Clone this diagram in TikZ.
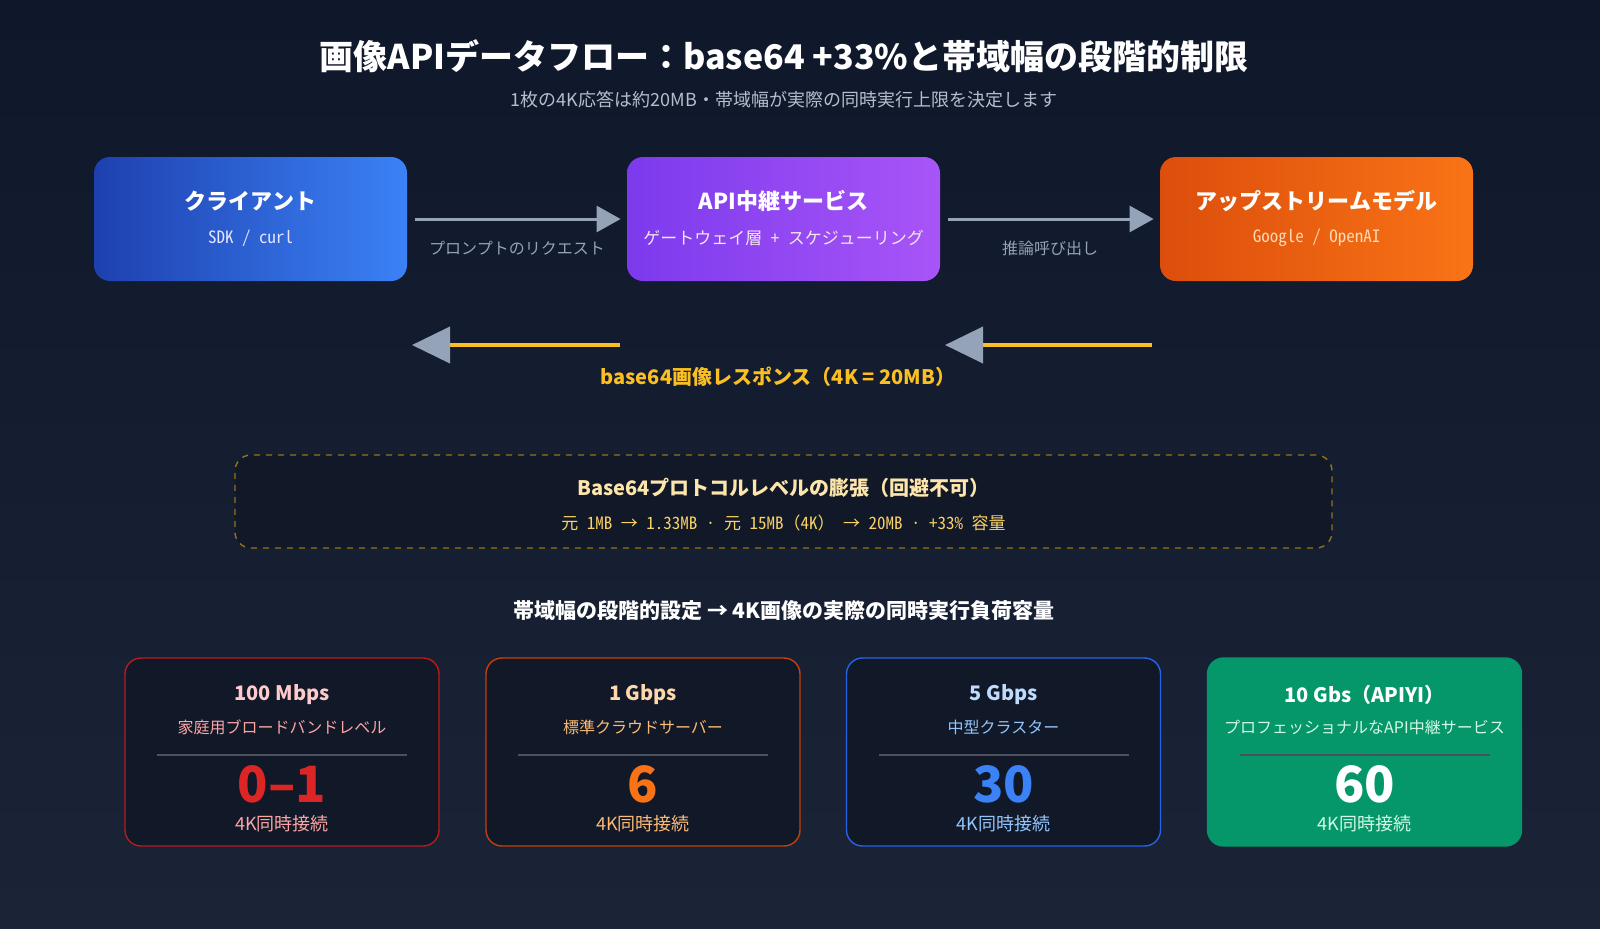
\documentclass[tikz,border=0pt]{standalone}
\usepackage{fontspec}
\setmainfont{Noto Sans CJK JP}
\newfontfamily\monojp{Noto Sans Mono CJK JP}
\usetikzlibrary{arrows.meta,positioning,shapes.misc}
\definecolor{bgtop}{HTML}{0F172A}
\definecolor{bgbot}{HTML}{1B2336}
\definecolor{cardbg}{HTML}{111827}
\definecolor{slate}{HTML}{94A3B8}
\definecolor{amber}{HTML}{FBBF24}
\definecolor{blueA}{HTML}{1E40AF}\definecolor{blueB}{HTML}{3B82F6}
\definecolor{violA}{HTML}{7C3AED}\definecolor{violB}{HTML}{A855F7}
\definecolor{orA}{HTML}{DC4E0C}\definecolor{orB}{HTML}{F97316}
\definecolor{grA}{HTML}{059669}\definecolor{grB}{HTML}{10B981}
\definecolor{redbd}{HTML}{B91C1C}\definecolor{orbd}{HTML}{C2410C}\definecolor{blbd}{HTML}{2563EB}
\definecolor{rednum}{HTML}{DC2626}\definecolor{ornum}{HTML}{F97316}\definecolor{blnum}{HTML}{3B82F6}
\definecolor{redt}{HTML}{FECACA}\definecolor{ort}{HTML}{FED7AA}\definecolor{blt}{HTML}{BFDBFE}
\definecolor{reds}{HTML}{FCA5A5}\definecolor{ors}{HTML}{FDBA74}\definecolor{bls}{HTML}{93C5FD}\definecolor{grs}{HTML}{D1FAE5}
\tikzset{
  box/.style={rounded corners=8pt, minimum width=156.5pt, minimum height=62pt, inner sep=0pt, shading angle=120},
  card/.style={rounded corners=8pt, minimum width=157pt, minimum height=94pt, fill=cardbg, line width=0.7pt},
  boxtitle/.style={font=\bfseries\fontsize{11}{13}\selectfont, text=white},
  boxsub/.style={font=\monojp\fontsize{8.5}{10}\selectfont},
  req/.style={draw=slate, line width=1.5pt, -{Triangle[length=12pt,width=13pt]}, shorten >=3pt, shorten <=4pt},
  resp/.style={draw=amber, line width=2pt, -{Triangle[length=19pt,width=18pt,color=slate]}},
  lbl/.style={font=\fontsize{8}{10}\selectfont, text=slate},
}
\begin{document}
\begin{tikzpicture}[x=0.5pt,y=-0.5pt]
\shade[top color=bgtop, bottom color=bgbot] (0,0) rectangle (1600,928);
\useasboundingbox (0,0) rectangle (1600,928);

% title
\node[font=\bfseries\fontsize{17}{20}\selectfont, text=white] (title) at (784,56) {画像APIデータフロー：base64 +33\%と帯域幅の段階的制限};
\node[font=\fontsize{9}{11}\selectfont, text=slate!70!white] (subtitle) at (784,100) {1枚の4K応答は約20MB・帯域幅が実際の同時実行上限を決定します};

% pipeline boxes
\node[box, left color=blueA, right color=blueB] (client) at (250.5,219) {};
\node[boxtitle] at (250.5,201) {クライアント};
\node[boxsub, text=blue!10!white] at (250.5,238) {SDK / curl};

\node[box, left color=violA, right color=violB] (relay) at (783.5,219) {};
\node[boxtitle] at (783.5,201) {API中継サービス};
\node[boxsub, text=violet!10!white] at (783.5,238) {ゲートウェイ層 + スケジューリング};

\node[box, left color=orA, right color=orB] (upstream) at (1316.5,219) {};
\node[boxtitle] at (1316.5,201) {アップストリームモデル};
\node[boxsub, text=orange!30!white] at (1316.5,238) {Google / OpenAI};

% request
\draw[req] (client) -- (relay) node[lbl, midway, below=7pt] {プロンプトのリクエスト};
\draw[req] (relay) -- (upstream) node[lbl, midway, below=7pt] {推論呼び出し};

% response
\coordinate (r1s) at (620,345); \coordinate (r1e) at (412,345);
\coordinate (r2s) at (1152,345); \coordinate (r2e) at (945,345);
\draw[resp] (r1s) -- (r1e);
\draw[resp] (r2s) -- (r2e);
\node[font=\bfseries\fontsize{10}{12}\selectfont, text=amber] (resplbl) at (778,377) {base64画像レスポンス（4K = 20MB）};

% expansion
\node[draw=amber!60!black, dashed, rounded corners=8pt, fill=cardbg, line width=0.7pt,
  minimum width=548.5pt, minimum height=46.5pt] (expand) at (783.5,501.5) {};
\node[font=\bfseries\fontsize{10}{12}\selectfont, text=yellow!40!orange!30!white] at (783.5,488) {Base64プロトコルレベルの膨張（回避不可）};
\node[font=\monojp\fontsize{8.5}{10}\selectfont, text=amber!70!white] at (783.5,523) {元 1MB → 1.33MB · 元 15MB（4K） → 20MB · +33\% 容量};

% tiers
\node[font=\bfseries\fontsize{10.5}{12}\selectfont, text=white] (tiers) at (784,611) {帯域幅の段階的設定 → 4K画像の実際の同時実行負荷容量};

\foreach \x/\bd/\fl/\tc/\sc/\nc/\bw/\sub/\num [count=\i] in {
  282/redbd/cardbg/redt/reds/rednum/100 Mbps/家庭用ブロードバンドレベル/0--1,
  643/orbd/cardbg/ort/ors/ornum/1 Gbps/標準クラウドサーバー/6,
  1003.5/blbd/cardbg/blt/bls/blnum/5 Gbps/中型クラスター/30,
  1364.5/grA/grA/white/grs/white/10 Gbs（APIYI）/プロフェッショナルなAPI中継サービス/60}
{
  \node[card, draw=\bd, left color=\fl, right color=\fl] (card-\i) at (\x,752) {};
  \node[font=\bfseries\fontsize{10}{12}\selectfont, text=\tc] at (\x,695) {\bw};
  \node[font=\fontsize{8}{10}\selectfont, text=\sc] at (\x,727) {\sub};
  \draw[white!25!cardbg, line width=0.6pt] (\x-125,755) -- (\x+125,755);
  \node[font=\bfseries\fontsize{25}{28}\selectfont, text=\nc] at (\x,784) {\num};
  \node[font=\fontsize{9}{11}\selectfont, text=\sc] at (\x,824) {4K同時接続};
}
\end{tikzpicture}
\end{document}
